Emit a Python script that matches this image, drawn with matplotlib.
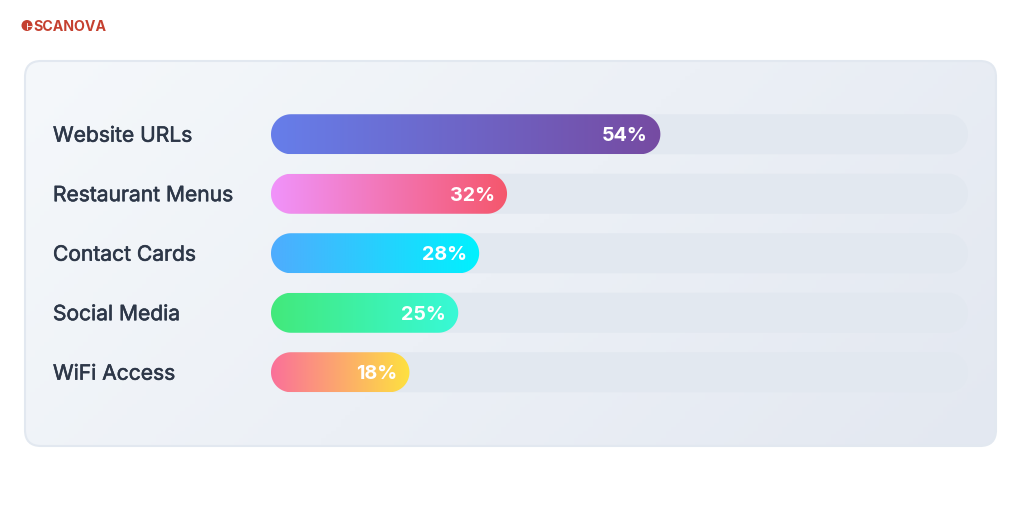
import numpy as np
import matplotlib
matplotlib.use("Agg")
import matplotlib.pyplot as plt
import matplotlib.patheffects as pe
from matplotlib.colors import to_rgb
from matplotlib.patches import Circle, FancyBboxPatch, Polygon

categories = ["Website URLs", "Restaurant Menus", "Contact Cards", "Social Media", "WiFi Access"]
values = [54, 32, 28, 25, 18]
starts = ["#667eea", "#f093fb", "#4facfe", "#43e97b", "#fa709a"]
ends = ["#764ba2", "#f5576c", "#00f2fe", "#38f9d7", "#fee140"]

plt.rcParams["font.family"] = ["Inter", "DejaVu Sans"]

W, H = 1024, 512
fig = plt.figure(figsize=(W / 100, H / 100), dpi=100, facecolor="white")

#Background layer in pixel units: card and logo
bg = fig.add_axes([0, 0, 1, 1])
bg.set_xlim(0, W)
bg.set_ylim(H, 0)
bg.axis("off")

card = FancyBboxPatch((25, 61), 971, 385, boxstyle="round,pad=0,rounding_size=16",
                      facecolor="none", edgecolor="#e2e8f0", linewidth=1.5, zorder=3)
bg.add_patch(card)
xx, yy = np.meshgrid(np.linspace(0, 1, 200), np.linspace(0, 1, 100))
t = (xx * 971 + yy * 385) / (971 + 385)
c0, c1 = np.array(to_rgb("#f5f8fb")), np.array(to_rgb("#e3e8f1"))
grad = c0 + (c1 - c0) * t[..., None]
im = bg.imshow(grad, extent=(25, 996, 446, 61), aspect="auto", zorder=1)
fill = FancyBboxPatch((25, 61), 971, 385, boxstyle="round,pad=0,rounding_size=16",
                      facecolor="none", edgecolor="none", zorder=0)
bg.add_patch(fill)
im.set_clip_path(fill)
bg.set_xlim(0, W)
bg.set_ylim(H, 0)

#Logo
bg.add_patch(Circle((27, 25.5), 5.5, facecolor="#c5402f", edgecolor="none", zorder=4))
bg.plot([27, 31], [25.5, 25.5], color="white", lw=0.6, zorder=5)
bg.plot([27, 27], [22.5, 28.5], color="white", lw=0.6, zorder=5)
bg.text(33.5, 27, "SCANOVA", color="#c5402f", fontsize=10.2, fontweight="bold",
        ha="left", va="center", zorder=5)

#Chart axes: x in percent, one row per category
px_per_pct = 6.97
row_px = 59.5
bar_px = 40
ax = fig.add_axes([271 / W, 1 - 402 / H, 697 / W, 5 * row_px / H])
ax.patch.set_alpha(0)
ax.set_xlim(0, 100)
ax.set_ylim(4.5, -0.5)
ax.axis("off")

bar_h = bar_px / row_px
cap_w = (bar_px / 2) / px_per_pct
bar_extra = 13 / px_per_pct


def pill(width, row, **kwargs):
    #Round-ended bar from 0 to width, centred on a row
    ang = np.linspace(-np.pi / 2, np.pi / 2, 40)
    right = np.column_stack([width - cap_w + cap_w * np.cos(ang), row + bar_h / 2 * np.sin(ang)])
    left = np.column_stack([cap_w - cap_w * np.cos(ang[::-1]), row + bar_h / 2 * np.sin(ang[::-1])])
    return Polygon(np.vstack([right, left]), closed=True, edgecolor="none", **kwargs)


for i, (name, val, start, end) in enumerate(zip(categories, values, starts, ends)):
    ax.add_patch(pill(100, i, facecolor="#e2e8f0", zorder=1))

    width = val + bar_extra
    bar = pill(width, i, facecolor="none", zorder=2)
    ax.add_patch(bar)
    ramp = np.linspace(0, 1, 256)[None, :, None]
    a, b = np.array(to_rgb(start)), np.array(to_rgb(end))
    img = ax.imshow(a + (b - a) * ramp, extent=(0, width, i + bar_h / 2, i - bar_h / 2),
                    aspect="auto", zorder=2)
    img.set_clip_path(bar)

    ax.annotate(f"{val}%", (width, i), xytext=(-9, 0), textcoords="offset points",
                color="white", fontsize=14.2, fontweight="bold", ha="right",
                va="center_baseline", zorder=3)
    ax.annotate(name, (0, i), xytext=(-157, 0.4), textcoords="offset points", annotation_clip=False,
                color="#2d3748", fontsize=15.15, ha="left", va="center_baseline", zorder=3,
                path_effects=[pe.withStroke(linewidth=0.4, foreground="#2d3748")])

ax.set_xlim(0, 100)
ax.set_ylim(4.5, -0.5)

fig.savefig("out.png", dpi=100)
